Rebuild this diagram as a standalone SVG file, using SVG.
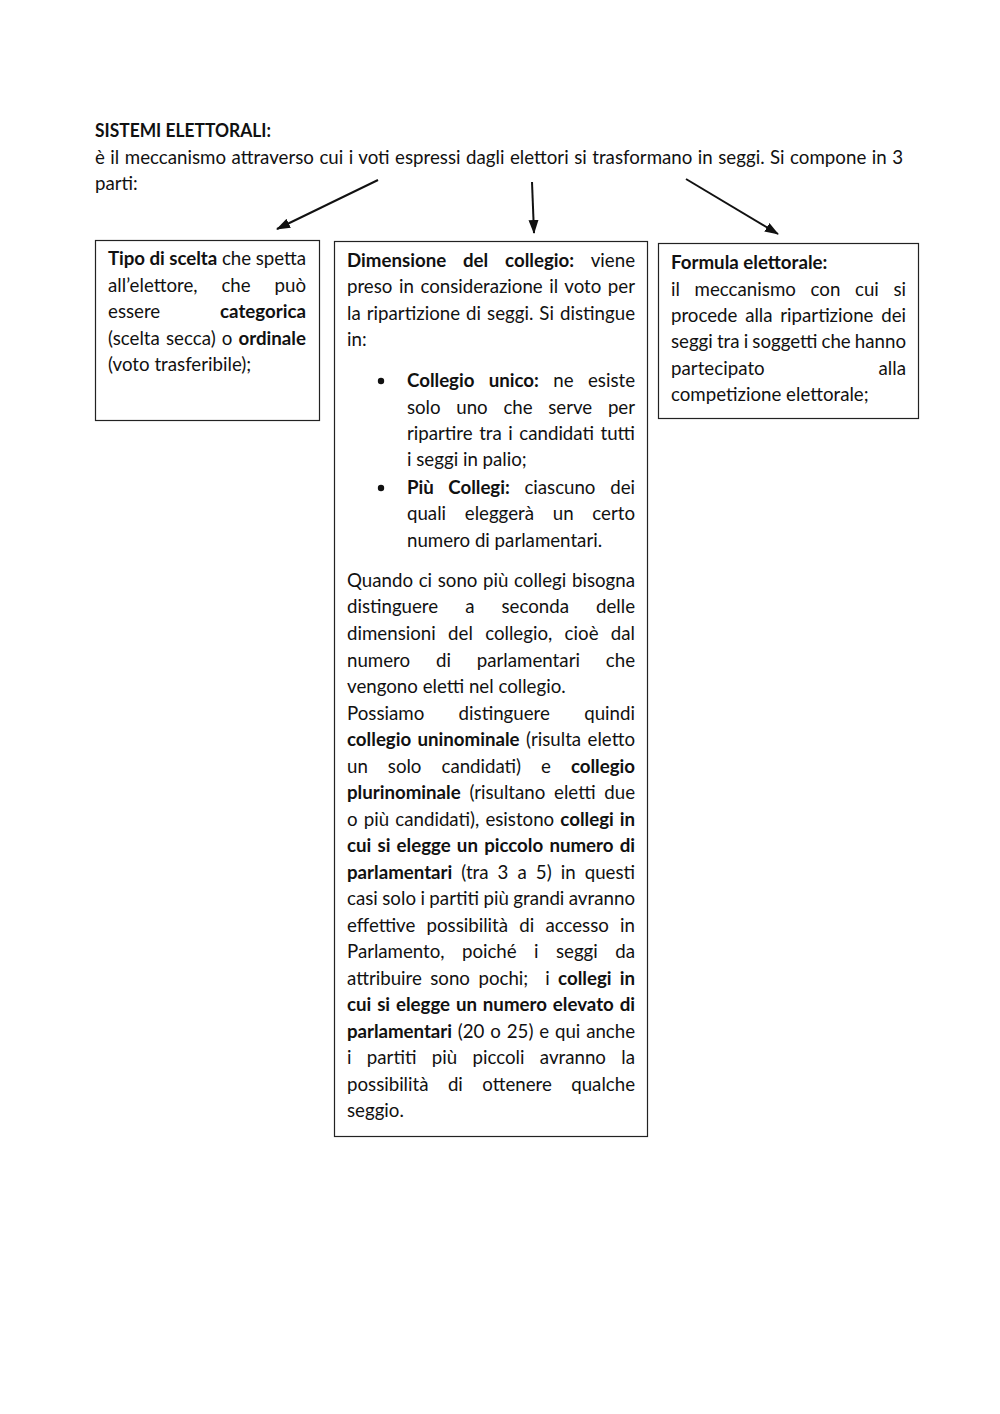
<svg xmlns="http://www.w3.org/2000/svg" width="1000" height="1414" viewBox="0 0 1000 1414">
<style>
text{font-family:Lato,"Liberation Sans",sans-serif;font-size:18.7px;fill:#111}
.b{font-weight:bold}
.box{fill:#fff;stroke:#222;stroke-width:1.2}
.arr{stroke:#111;stroke-width:2;fill:none}
.dot{fill:#111}
</style>
<defs>
<marker id="ah" markerWidth="14" markerHeight="10" refX="13" refY="5" orient="auto" markerUnits="userSpaceOnUse">
<path d="M0,0 L14,5 L0,10 Z" fill="#111"/>
</marker>
</defs>
<rect width="1000" height="1414" fill="#fff"/>
<g id="header">
<text x="95" y="137" class="b" textLength="176" lengthAdjust="spacingAndGlyphs">SISTEMI ELETTORALI:</text>
<text x="95" y="164" word-spacing="0.7" textLength="808" lengthAdjust="spacing">è il meccanismo attraverso cui i voti espressi dagli elettori si trasformano in seggi. Si compone in 3</text>
<text x="95" y="190">parti:</text>
</g>
<g id="connectors">
<line class="arr" x1="378" y1="180" x2="277" y2="229" marker-end="url(#ah)"/>
<line class="arr" x1="532" y1="182" x2="534" y2="233" marker-end="url(#ah)"/>
<line class="arr" x1="686" y1="179" x2="778" y2="234" marker-end="url(#ah)"/>
</g>
<g id="node-tipo">
<rect class="box" x="95.5" y="240.5" width="224" height="180"/>
<text x="108" y="265" textLength="198" lengthAdjust="spacing"><tspan class="b">Tipo di scelta</tspan> che spetta</text>
<text x="108" y="291.5" word-spacing="19" textLength="198" lengthAdjust="spacing">all’elettore, che può</text>
<text x="108" y="318" word-spacing="55" textLength="198" lengthAdjust="spacing">essere <tspan class="b">categorica</tspan></text>
<text x="108" y="344.5" word-spacing="1.3" textLength="198" lengthAdjust="spacing">(scelta secca) o <tspan class="b">ordinale</tspan></text>
<text x="108" y="371">(voto trasferibile);</text>
</g>
<g id="node-dimensione">
<rect class="box" x="334.5" y="241.5" width="313" height="895"/>
<text x="347" y="267" word-spacing="12.3" textLength="288" lengthAdjust="spacing"><tspan class="b">Dimensione del collegio:</tspan> viene</text>
<text x="347" y="293" word-spacing="1.8" textLength="288" lengthAdjust="spacing">preso in considerazione il voto per</text>
<text x="347" y="320" word-spacing="1.2" textLength="288" lengthAdjust="spacing">la ripartizione di seggi. Si distingue</text>
<text x="347" y="346">in:</text>
<circle class="dot" cx="381" cy="381" r="3.2"/>
<text x="407" y="387" word-spacing="9.7" textLength="228" lengthAdjust="spacing"><tspan class="b">Collegio unico:</tspan> ne esiste</text>
<text x="407" y="414" word-spacing="11" textLength="228" lengthAdjust="spacing">solo uno che serve per</text>
<text x="407" y="440" word-spacing="1.75" textLength="228" lengthAdjust="spacing">ripartire tra i candidati tutti</text>
<text x="407" y="466">i seggi in palio;</text>
<circle class="dot" cx="381" cy="488" r="3.2"/>
<text x="407" y="494" word-spacing="10" textLength="228" lengthAdjust="spacing"><tspan class="b">Più Collegi:</tspan> ciascuno dei</text>
<text x="407" y="520" word-spacing="14" textLength="228" lengthAdjust="spacing">quali eleggerà un certo</text>
<text x="407" y="547">numero di parlamentari.</text>
<text x="347" y="587" word-spacing="0.8" textLength="288" lengthAdjust="spacing">Quando ci sono più collegi bisogna</text>
<text x="347" y="613" word-spacing="22.3" textLength="288" lengthAdjust="spacing">distinguere a seconda delle</text>
<text x="347" y="640" word-spacing="7.5" textLength="288" lengthAdjust="spacing">dimensioni del collegio, cioè dal</text>
<text x="347" y="667" word-spacing="21" textLength="288" lengthAdjust="spacing">numero di parlamentari che</text>
<text x="347" y="693">vengono eletti nel collegio.</text>
<text x="347" y="720" word-spacing="29.5" textLength="288" lengthAdjust="spacing">Possiamo distinguere quindi</text>
<text x="347" y="746" word-spacing="1.7" textLength="288" lengthAdjust="spacing"><tspan class="b">collegio uninominale</tspan> (risulta eletto</text>
<text x="347" y="773" word-spacing="15.25" textLength="288" lengthAdjust="spacing">un solo candidati) e <tspan class="b">collegio</tspan></text>
<text x="347" y="799" word-spacing="4" textLength="288" lengthAdjust="spacing"><tspan class="b">plurinominale</tspan> (risultano eletti due</text>
<text x="347" y="826" word-spacing="1.4" textLength="288" lengthAdjust="spacing">o più candidati), esistono <tspan class="b">collegi in</tspan></text>
<text x="347" y="852" class="b" word-spacing="1.7" textLength="288" lengthAdjust="spacing">cui si elegge un piccolo numero di</text>
<text x="347" y="879" word-spacing="4.3" textLength="288" lengthAdjust="spacing"><tspan class="b">parlamentari</tspan> (tra 3 a 5) in questi</text>
<text x="347" y="905" word-spacing="-0.4" textLength="288" lengthAdjust="spacing">casi solo i partiti più grandi avranno</text>
<text x="347" y="932" word-spacing="6.5" textLength="288" lengthAdjust="spacing">effettive possibilità di accesso in</text>
<text x="347" y="958" word-spacing="12.75" textLength="288" lengthAdjust="spacing">Parlamento, poiché i seggi da</text>
<text x="347" y="985" word-spacing="3.7" textLength="288" lengthAdjust="spacing">attribuire sono pochi;&#160; i <tspan class="b">collegi in</tspan></text>
<text x="347" y="1011" class="b" word-spacing="1.3" textLength="288" lengthAdjust="spacing">cui si elegge un numero elevato di</text>
<text x="347" y="1038" word-spacing="1.2" textLength="288" lengthAdjust="spacing"><tspan class="b">parlamentari</tspan> (20 o 25) e qui anche</text>
<text x="347" y="1064" word-spacing="10.6" textLength="288" lengthAdjust="spacing">i partiti più piccoli avranno la</text>
<text x="347" y="1091" word-spacing="14.7" textLength="288" lengthAdjust="spacing">possibilità di ottenere qualche</text>
<text x="347" y="1117">seggio.</text>
</g>
<g id="node-formula">
<rect class="box" x="658.5" y="243.5" width="260" height="175"/>
<text x="671" y="269" class="b">Formula elettorale:</text>
<text x="671" y="296" word-spacing="9.75" textLength="235" lengthAdjust="spacing">il meccanismo con cui si</text>
<text x="671" y="322" word-spacing="3" textLength="235" lengthAdjust="spacing">procede alla ripartizione dei</text>
<text x="671" y="348" word-spacing="-0.6" textLength="235" lengthAdjust="spacing">seggi tra i soggetti che hanno</text>
<text x="671" y="375" word-spacing="109" textLength="235" lengthAdjust="spacing">partecipato alla</text>
<text x="671" y="401">competizione elettorale;</text>
</g>
</svg>
